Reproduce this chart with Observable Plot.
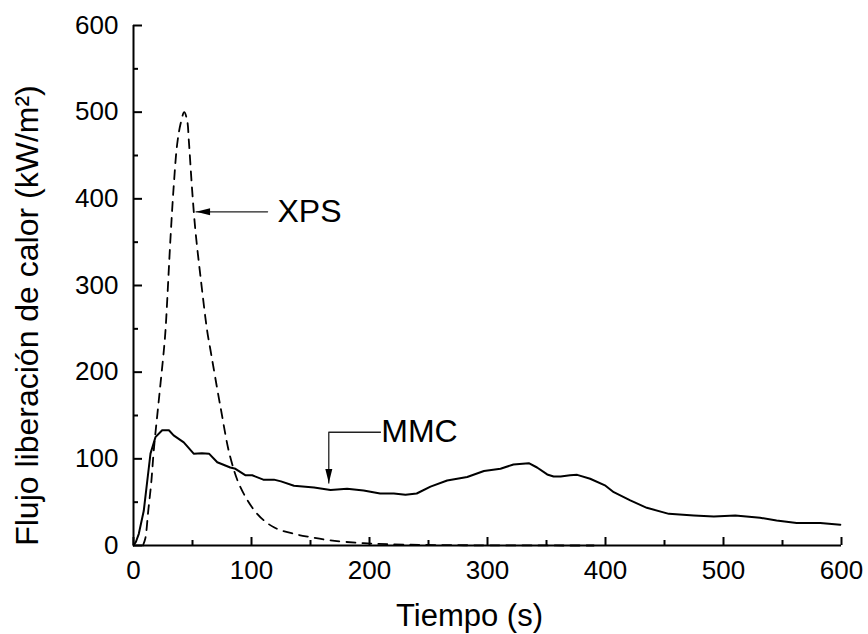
<!DOCTYPE html>
<html>
<head>
<meta charset="utf-8">
<script src="https://cdn.jsdelivr.net/npm/d3@7"></script>
<script src="https://cdn.jsdelivr.net/npm/@observablehq/plot@0.6"></script>
<style>
  html, body { margin: 0; padding: 0; background: white; }
  #chart { width: 868px; height: 634px; }
</style>
</head>
<body>
<div id="chart"></div>
<script>
// ---- Data ----
// MMC (solid line): time (s) and heat release rate (kW/m²)
const mmcTime = [0, 2, 4.5, 8.7, 13, 14.4, 18.6, 24.3, 30, 34, 42.6, 51, 58, 64, 71, 82, 86.4, 95, 100.6, 110, 119, 125, 136, 153, 167, 181, 195, 209, 220.6, 230.5, 240, 251.7, 265.8, 282.8, 297, 311, 322, 335, 342, 350.6, 356, 362, 370, 376, 387, 400, 407, 421, 435, 453.7, 474.8, 491.8, 510, 531, 545, 562, 582, 599];
const mmcHrr  = [0, 4, 13.5, 40, 90, 106, 125, 133, 133, 127, 119, 106, 106.5, 106, 96, 90, 88.5, 81, 81, 76, 76, 74, 69, 67, 64, 65.4, 63.5, 60, 60, 58.5, 60, 68, 75, 79, 86, 88.5, 93.5, 95, 90, 82, 79.6, 79.6, 81, 81.5, 77, 69, 61.5, 52, 43.5, 36.5, 34.6, 33.5, 34.6, 32, 28.8, 26, 26, 24];

// XPS (dashed line)
const xpsTime = [8, 10, 12.5, 15, 17.2, 21.4, 25.7, 27.1, 31.4, 34.2, 37, 39.8, 43, 45.5, 46.9, 49.7, 52.5, 56.8, 62.4, 65.3, 73.7, 82, 90.7, 104.8, 119, 136, 150, 167, 195, 230, 280, 390];
const xpsHrr  = [0, 8, 40, 72, 110, 167, 225, 248, 356, 417, 463, 486, 500, 490, 467, 410, 363, 310, 248, 225, 160, 102, 67, 36.5, 21, 13.5, 9.6, 5.8, 2.7, 1, 0.3, 0];

// Tick values
const xTicks = [0, 100, 200, 300, 400, 500, 600];
const xMinor = [50, 150, 250, 350, 450, 550];
const yTicks = [0, 100, 200, 300, 400, 500, 600];
const yMinor = [50, 150, 250, 350, 450, 550];

// Annotations
const xpsLabel = "XPS";
const xpsArrowTime = [113.6, 53];
const xpsArrowHrr  = [385, 385];
const mmcLabel = "MMC";
const mmcArrowTime = [209.3, 165.5, 165.5];
const mmcArrowHrr  = [130.7, 130.7, 72];

const xTitle = "Tiempo (s)";
const yTitle = "Flujo liberación de calor (kW/m²)";

// ---- Build tables ----
const mmc = mmcTime.map((t, i) => ({t, q: mmcHrr[i]}));
const xps = xpsTime.map((t, i) => ({t, q: xpsHrr[i]}));
const xpsArrow = xpsArrowTime.map((t, i) => ({t, q: xpsArrowHrr[i]}));
const mmcArrow = mmcArrowTime.map((t, i) => ({t, q: mmcArrowHrr[i]}));

// Filled narrow arrowhead, tip at origin, pointing down
const headSymbol = {
  draw(ctx) {
    ctx.moveTo(0, 0);
    ctx.lineTo(-3.5, -14);
    ctx.lineTo(3.5, -14);
    ctx.closePath();
  }
};

const chart = Plot.plot({
  width: 868,
  height: 634,
  marginLeft: 133,
  marginRight: 27,
  marginTop: 25,
  marginBottom: 89,
  x: {domain: [0, 600]},
  y: {domain: [0, 600]},
  style: {fontFamily: "'Liberation Sans', Arial, sans-serif", background: "white", color: "black"},
  marks: [
    // axis labels (text)
    Plot.axisX(xTicks, {tickSize: 0, tickPadding: 15, fontSize: 26, label: null}),
    Plot.axisY(yTicks, {tickSize: 0, tickPadding: 15, fontSize: 26, label: null}),
    // inward ticks
    Plot.axisX(xTicks, {tickSize: -8, text: null, strokeWidth: 2, label: null}),
    Plot.axisX(xMinor, {tickSize: -5, text: null, strokeWidth: 2, label: null}),
    Plot.axisY(yTicks, {tickSize: -9, text: null, strokeWidth: 2, label: null}),
    Plot.axisY(yMinor, {tickSize: -5, text: null, strokeWidth: 2, label: null}),
    // axis lines
    Plot.ruleX([0], {strokeWidth: 2}),
    Plot.ruleY([0], {strokeWidth: 2}),
    // series
    Plot.line(xps, {x: "t", y: "q", stroke: "black", strokeWidth: 1.8, strokeDasharray: "9,7", curve: "catmull-rom"}),
    Plot.line(mmc, {x: "t", y: "q", stroke: "black", strokeWidth: 2}),
    // annotations
    Plot.line(xpsArrow, {x: "t", y: "q", stroke: "#222", strokeWidth: 1.3}),
    Plot.dot([xpsArrow[xpsArrow.length - 1]], {x: "t", y: "q", symbol: headSymbol, rotate: 90, fill: "black", stroke: "none"}),
    Plot.text([xpsLabel], {x: () => 122, y: () => 385, text: d => d, textAnchor: "start", lineAnchor: "middle", fontSize: 32}),
    Plot.line(mmcArrow, {x: "t", y: "q", stroke: "#222", strokeWidth: 1.3}),
    Plot.dot([mmcArrow[mmcArrow.length - 1]], {x: "t", y: "q", symbol: headSymbol, rotate: 0, fill: "black", stroke: "none"}),
    Plot.text([mmcLabel], {x: () => 210, y: () => 130.7, text: d => d, textAnchor: "start", lineAnchor: "middle", fontSize: 32}),
    // axis titles
    Plot.text([xTitle], {frameAnchor: "bottom", text: d => d, dy: 80, dx: -18, lineAnchor: "bottom", fontSize: 31}),
    Plot.text([yTitle], {frameAnchor: "left", text: d => d, rotate: -90, dx: -96, dy: 30, lineAnchor: "bottom", textAnchor: "middle", fontSize: 32})
  ]
});

document.getElementById("chart").appendChild(chart);
</script>
</body>
</html>
